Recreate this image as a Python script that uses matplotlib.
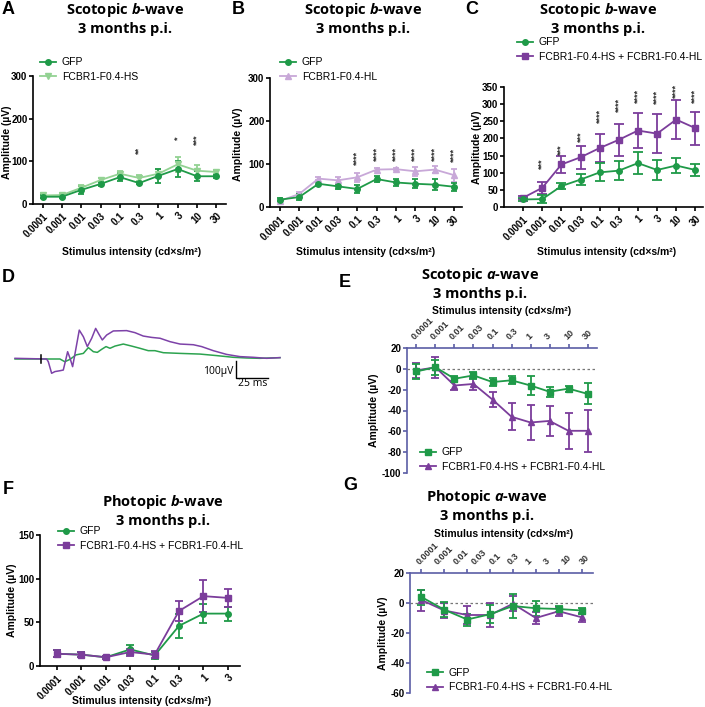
import matplotlib
matplotlib.use('Agg')
import matplotlib.pyplot as plt
from matplotlib.lines import Line2D

plt.rcParams['font.family'] = ['Liberation Sans', 'DejaVu Sans']
plt.rcParams['mathtext.fontset'] = 'custom'
plt.rcParams['mathtext.it'] = 'Open Sans:italic:bold'
plt.rcParams['mathtext.rm'] = 'Open Sans:bold'
plt.rcParams['axes.unicode_minus'] = False

W, H = 705, 707

GFP = '#1f9a48'
HS = '#93d293'
HL = '#c8a8d8'
COMB = '#7b3d9b'
AXBLUE = '#5b5ea6'

scot_labels = ['0.0001', '0.001', '0.01', '0.03', '0.1', '0.3', '1', '3', '10', '30']
phot_labels = ['0.0001', '0.001', '0.01', '0.03', '0.1', '0.3', '1', '3']
xlab = 'Stimulus intensity (cd×s/m²)'
ylab = 'Amplitude (µV)'

# A: scotopic b-wave, GFP vs HS
a_gfp = [17, 17, 33, 47, 63, 49, 66, 82, 65, 65]
a_gfp_err = [4, 3, 9, 5, 10, 3, 16, 19, 12, 3]
a_hs = [20, 21, 38, 56, 71, 61, 71, 93, 78, 75]
a_hs_err = [5, 4, 6, 4, 7, 7, 10, 17, 13, 5]
a_stars = {5: ('**', 125), 7: ('*', 154), 8: ('***', 150)}

# B: scotopic b-wave, GFP vs HL
b_gfp = [17, 23, 54, 48, 42, 65, 57, 54, 52, 47]
b_gfp_err = [3, 7, 5, 6, 10, 6, 9, 10, 12, 9]
b_hl = [14, 30, 66, 62, 69, 87, 88, 83, 87, 74]
b_hl_err = [3, 4, 3, 8, 10, 3, 3, 10, 8, 15]
b_stars = {4: ('****', 113), 5: ('****', 124), 6: ('****', 124),
           7: ('****', 124), 8: ('****', 124), 9: ('****', 121)}

# C: scotopic b-wave, GFP vs HS + HL
c_gfp = [22, 23, 61, 80, 101, 106, 128, 108, 121, 108]
c_gfp_err = [4, 12, 8, 17, 26, 28, 32, 28, 22, 17]
c_comb = [27, 56, 124, 145, 172, 196, 223, 214, 255, 230]
c_comb_err = [4, 18, 25, 33, 41, 47, 52, 57, 56, 48]
c_stars = {1: ('***', 126), 2: ('***', 166), 3: ('***', 205), 4: ('****', 266),
           5: ('****', 297), 6: ('****', 323), 7: ('****', 320), 8: ('****', 338),
           9: ('****', 323)}

# D: example traces (ms, µV)
d_t_comb = [-20.3, 4.4, 5.7, 8.3, 10.9, 14.8, 17.4, 19.3, 20.8, 22.7, 24.7, 26.6, 29.9,
            33.1, 36.2, 39.6, 42.7, 45.6, 47.9, 51.3, 56.5, 66.9, 73.4, 79.9, 86.5, 93.0,
            100.8, 108.6, 119.0, 125.5, 134.6, 145.0, 155.5, 165.9, 176.3, 186.7]
d_v_comb = [4, 0, -16, -84, -74, -69, -65, -6, 43, 4, -45, 33, 170,
            131, 73, 122, 180, 141, 112, 141, 165, 167, 155, 135, 127, 122,
            102, 88, 84, 73, 49, 27, 14, 10, 4, 8]
d_t_gfp = [-20.3, 14.8, 18.6, 22.7, 27.3, 33.1, 37.0, 40.9, 44.0, 47.4, 50.8, 53.9, 57.8,
           64.3, 70.8, 77.3, 83.8, 89.0, 95.6, 108.6, 124.2, 137.2, 150.2, 160.6, 171.0, 186.7]
d_v_gfp = [0, 0, -16, -2, 24, 33, 67, 43, 39, 57, 73, 63, 76,
           88, 76, 63, 49, 49, 37, 33, 29, 20, 10, 6, 4, 8]

# E: scotopic a-wave
e_gfp = [-2.5, 1.5, -9.5, -6.3, -12.7, -11, -16, -22, -19, -24]
e_gfp_err = [7, 7, 3, 3, 4, 4, 9, 5, 3, 10]
e_comb = [-1.5, 1.5, -16, -14.5, -29.5, -46, -51.5, -50, -59.5, -59.5]
e_comb_err = [7, 10, 4, 6, 7, 13, 17, 14, 17, 20]

# F: photopic b-wave
f_gfp = [14, 13, 10, 19, 12, 46, 60, 60]
f_gfp_err = [4, 3, 2, 5, 4, 14, 11, 8]
f_comb = [14, 13, 10, 16, 13, 63, 80, 78]
f_comb_err = [4, 3, 2, 4, 4, 12, 18, 10]

# G: photopic a-wave
g_gfp = [4, -4.5, -11, -7.5, -2, -3.5, -4, -5]
g_gfp_err = [5, 5, 4, 6, 8, 5, 2, 2]
g_comb = [2, -5, -8, -8, -0.5, -10, -5.5, -9.5]
g_comb_err = [7, 5, 6, 8, 5, 4, 3, 3]


def rect(l, t, r, b):
    return [l / W, 1 - b / H, (r - l) / W, (b - t) / H]


def ftext(fig, x, y, s, **kw):
    fig.text(x / W, 1 - y / H, s, **kw)


def series(ax, y, err, color, marker, ms, cap):
    x = list(range(len(y)))
    ax.errorbar(x, y, yerr=err, color=color, marker=marker, ms=ms, lw=1.3,
                elinewidth=1.3, capsize=cap, capthick=1.3, clip_on=False, zorder=3)


def legend(ax, fig, entries, x, y):
    handles = [Line2D([], [], color=c, marker=m, ms=ms, lw=1.3, label=l)
               for l, c, m, ms in entries]
    ax.legend(handles=handles, loc='center left', bbox_to_anchor=(x / W, 1 - y / H),
              bbox_transform=fig.transFigure, frameon=False, fontsize=7.5,
              borderpad=0, borderaxespad=0, handlelength=1.5, handletextpad=0.6,
              labelspacing=0.45)


def bottom_axes(ax, labels, ylim, yticks, xlim):
    for s in ['top', 'right']:
        ax.spines[s].set_visible(False)
    for s in ['left', 'bottom']:
        ax.spines[s].set_linewidth(1.2)
    ax.set_xlim(*xlim)
    ax.set_ylim(*ylim)
    ax.set_yticks(yticks)
    ax.set_xticks(range(len(labels)))
    ax.set_xticklabels(labels, rotation=45, ha='right', va='top',
                       rotation_mode='anchor', fontweight='bold', fontsize=7)
    for t in ax.get_yticklabels():
        t.set_fontweight('bold')
    ax.tick_params(direction='out', length=3, width=1.2, labelsize=7, pad=2)
    ax.tick_params(axis='y', pad=1)


def top_axes(ax, n, labels, label_pos, ylim, yticks, xlim):
    for s in ['bottom', 'right']:
        ax.spines[s].set_visible(False)
    for s in ['left', 'top']:
        ax.spines[s].set_linewidth(1.2)
        ax.spines[s].set_color(AXBLUE)
    ax.xaxis.set_ticks_position('top')
    ax.xaxis.remove_overlapping_locs = False
    ax.set_xlim(*xlim)
    ax.set_ylim(*ylim)
    ax.set_yticks(yticks)
    ax.set_xticks(range(n))
    ax.set_xticklabels([])
    ax.set_xticks(label_pos, minor=True)
    ax.set_xticklabels(labels, minor=True, rotation=45, ha='left', va='bottom',
                       rotation_mode='anchor', fontsize=6.5, fontweight='bold',
                       color='#333333')
    ax.tick_params(axis='x', which='minor', length=0, pad=5)
    ax.tick_params(which='major', direction='out', length=3, width=1.2, color=AXBLUE,
                   labelsize=7)
    ax.tick_params(axis='y', pad=1)
    for t in ax.get_yticklabels():
        t.set_fontweight('bold')
    ax.axhline(0, color='#777777', lw=0.9, ls=(0, (2, 2)), zorder=1)


def title(fig, x, y, kind):
    ftext(fig, x, y, kind, ha='center', va='center', fontsize=10.5,
          family='Open Sans', fontweight='bold')
    ftext(fig, x, y + 19, '3 months p.i.', ha='center', va='center', fontsize=10.5,
          family='Open Sans', fontweight='bold')


def stars(ax, d):
    for i, (s, y) in d.items():
        ax.text(i, y, s, rotation=90, ha='center', va='center', fontsize=6.5,
                fontweight='bold', color='#333333')


def ylabel(fig, x, y):
    ftext(fig, x, y, ylab, rotation=90, ha='center', va='center', fontsize=7.5,
          fontweight='bold')


def xlabel(fig, x, y):
    ftext(fig, x, y, xlab, ha='center', va='center', fontsize=7.5, fontweight='bold')


fig = plt.figure(figsize=(W / 100, H / 100), dpi=100)

# panel letters
for letter, x, y in [('A', 8, 9), ('B', 238, 9), ('C', 472, 9), ('D', 8, 277),
                     ('E', 345, 283), ('F', 8, 489), ('G', 350, 486)]:
    ftext(fig, x, y, letter, ha='center', va='center', fontsize=13, fontweight='bold')

# A
ax = fig.add_axes(rect(33, 76, 226, 204))
series(ax, a_hs, a_hs_err, HS, 'v', 4.5, 2.5)
series(ax, a_gfp, a_gfp_err, GFP, 'o', 4, 2.5)
bottom_axes(ax, scot_labels, (0, 300), [0, 100, 200, 300], (-0.5, 9.5))
stars(ax, a_stars)
legend(ax, fig, [('GFP', GFP, 'o', 4), ('FCBR1-F0.4-HS', HS, 'v', 4.5)], 40, 69.5)
title(fig, 125, 10, 'Scotopic $\\mathit{b}$-wave')
ylabel(fig, 7, 142)
xlabel(fig, 132, 252)

# B
ax = fig.add_axes(rect(270, 78, 462, 207))
series(ax, b_hl, b_hl_err, HL, '^', 4.5, 2.5)
series(ax, b_gfp, b_gfp_err, GFP, 'o', 4, 2.5)
bottom_axes(ax, scot_labels, (0, 300), [0, 100, 200, 300], (-0.5, 9.4))
stars(ax, b_stars)
legend(ax, fig, [('GFP', GFP, 'o', 4), ('FCBR1-F0.4-HL', HL, '^', 4.5)], 280, 69.5)
title(fig, 363, 10, 'Scotopic $\\mathit{b}$-wave')
ylabel(fig, 238, 144)
xlabel(fig, 366, 252)

# C
ax = fig.add_axes(rect(504, 87, 703, 207))
series(ax, c_comb, c_comb_err, COMB, 's', 4.5, 3.5)
series(ax, c_gfp, c_gfp_err, GFP, 'o', 4, 3.5)
bottom_axes(ax, scot_labels, (0, 350), list(range(0, 351, 50)), (-1.0, 9.4))
stars(ax, c_stars)
legend(ax, fig, [('GFP', GFP, 'o', 4), ('FCBR1-F0.4-HS + FCBR1-F0.4-HL', COMB, 's', 4.5)],
       517, 49.5)
title(fig, 598, 10, 'Scotopic $\\mathit{b}$-wave')
ylabel(fig, 477, 147)
xlabel(fig, 607, 252)

# D traces
ax = fig.add_axes(rect(10, 300, 290, 400))
ax.plot(d_t_gfp, d_v_gfp, color='#2ca34f', lw=1.1)
ax.plot(d_t_comb, d_v_comb, color='#7d42a8', lw=1.1)
ax.set_xlim((10 - 41) / 1.28, (290 - 41) / 1.28)
ax.set_ylim((359 - 400) / 0.17, (359 - 300) / 0.17)
ax.axis('off')
ax.plot([0, 0], [-24, 24], color='black', lw=1.1)
ax.plot([152.3, 152.3, 177.3], [-12, -112, -112], color='black', lw=1.0)
ax.text(150, -76, '100µV', ha='right', va='center', fontsize=7.5, family='Open Sans')
ax.text(165, -145, '25 ms', ha='center', va='center', fontsize=7.5, family='Open Sans')

# E
ax = fig.add_axes(rect(407, 348, 597, 473))
series(ax, e_comb, e_comb_err, COMB, '^', 4.5, 3)
series(ax, e_gfp, e_gfp_err, GFP, 's', 4, 3)
top_axes(ax, 10, scot_labels, list(range(10)), (-100, 20), list(range(20, -101, -20)),
         (-0.5, 9.5))
legend(ax, fig, [('GFP', GFP, 's', 4), ('FCBR1-F0.4-HS + FCBR1-F0.4-HL', COMB, '^', 4.5)],
       420, 459.5)
title(fig, 480, 275, 'Scotopic $\\mathit{a}$-wave')
xlabel(fig, 502, 311)
ylabel(fig, 374, 410)

# F
ax = fig.add_axes(rect(40, 535, 240, 666))
series(ax, f_gfp, f_gfp_err, GFP, 'o', 4, 3)
series(ax, f_comb, f_comb_err, COMB, 's', 4.5, 3)
bottom_axes(ax, phot_labels, (0, 150), [0, 50, 100, 150], (-0.7, 7.5))
legend(ax, fig, [('GFP', GFP, 'o', 4), ('FCBR1-F0.4-HS + FCBR1-F0.4-HL', COMB, 's', 4.5)],
       58, 538.5)
title(fig, 163, 502, 'Photopic $\\mathit{b}$-wave')
ylabel(fig, 12, 600)
xlabel(fig, 142, 701)

# G
ax = fig.add_axes(rect(410, 573, 593, 693))
series(ax, g_comb, g_comb_err, COMB, '^', 4.5, 3)
series(ax, g_gfp, g_gfp_err, GFP, 's', 4, 3)
g_label_pos = [i * 0.79 for i in range(10)]
top_axes(ax, 8, scot_labels, g_label_pos, (-60, 20), [20, 0, -20, -40, -60], (-0.5, 7.5))
legend(ax, fig, [('GFP', GFP, 's', 4), ('FCBR1-F0.4-HS + FCBR1-F0.4-HL', COMB, '^', 4.5)],
       427, 680)
title(fig, 487, 497, 'Photopic $\\mathit{a}$-wave')
xlabel(fig, 504, 534)
ylabel(fig, 383, 633)

fig.savefig('out.png', dpi=100)
